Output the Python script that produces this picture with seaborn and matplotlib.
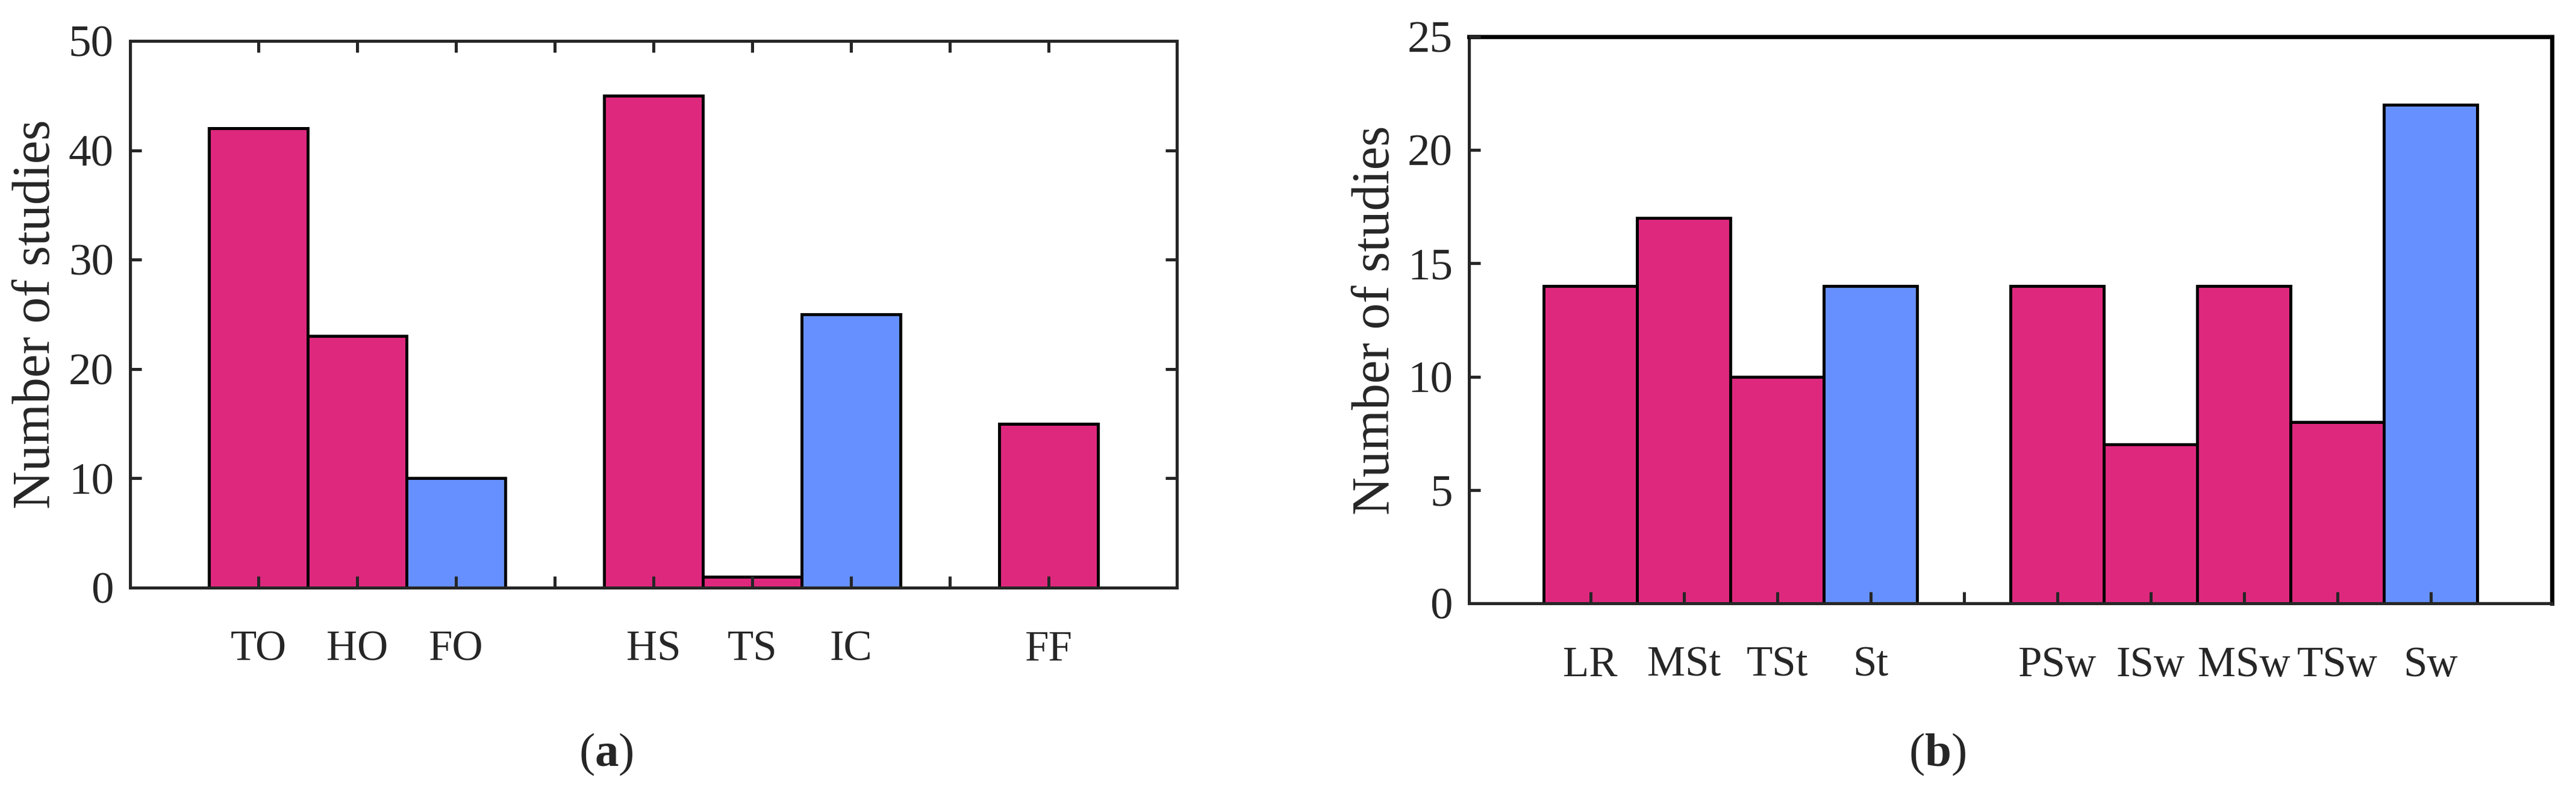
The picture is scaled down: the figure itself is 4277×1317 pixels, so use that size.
import matplotlib
matplotlib.use("Agg")
import matplotlib.pyplot as plt
import seaborn as sns
import pandas as pd

# ---------------- data ----------------
groups_a = [["TO", "HO", "FO"], ["HS", "TS", "IC"], ["FF"]]
values_a = [42, 23, 10, 45, 1, 25, 15]
kinds_a = ["part", "part", "total", "part", "part", "total", "part"]
yticks_a = [0, 10, 20, 30, 40, 50]

groups_b = [["LR", "MSt", "TSt", "St"], ["PSw", "ISw", "MSw", "TSw", "Sw"]]
values_b = [14, 17, 10, 14, 14, 7, 14, 8, 22]
kinds_b = ["part", "part", "part", "total", "part", "part", "part", "part", "total"]
yticks_b = [0, 5, 10, 15, 20, 25]

ylabel = "Number of studies"
captions = ["a", "b"]

palette = {"part": "#DE287E", "total": "#6690FF"}
spine_col = "#262626"

sns.set_theme(style="ticks")
plt.rcParams["font.family"] = ["Liberation Serif", "DejaVu Serif"]
plt.rcParams["mathtext.fontset"] = "custom"
plt.rcParams["mathtext.rm"] = "Liberation Serif"
plt.rcParams["mathtext.bf"] = "Liberation Serif:bold"

fig = plt.figure(figsize=(4277 / 300, 1317 / 300), dpi=300)
ax_a = fig.add_axes([0.0505, 0.2589, 0.4064, 0.6895])
ax_b = fig.add_axes([0.5703, 0.2392, 0.4204, 0.7145])


def build_order(groups):
    order = []
    for gi, g in enumerate(groups):
        if gi > 0:
            order.append(f"_gap{gi}")
        order.extend(g)
    return order


def draw(ax, groups, values, kinds, yticks, boxed):
    order = build_order(groups)
    cats = [c for g in groups for c in g]
    df = pd.DataFrame({"cat": cats, "val": values, "kind": kinds})
    sns.barplot(data=df, x="cat", y="val", hue="kind", order=order,
                palette=palette, width=1.0, dodge=False, legend=False,
                edgecolor="black", linewidth=1.2, saturation=1, ax=ax,
                errorbar=None)
    n = len(order)
    ax.set_xlim(-1.3, n + 0.3)
    ax.set_ylim(yticks[0], yticks[-1])
    ax.set_yticks(yticks)
    ax.set_xticks(range(n))
    ax.set_xticklabels(["" if o.startswith("_gap") else o for o in order])
    ax.set_xlabel("")
    ax.set_ylabel(ylabel, fontsize=21, labelpad=3)
    ax.set_axisbelow(False)
    ax.tick_params(axis="x", direction="in", length=4.5, width=1.2,
                   color=spine_col, labelsize=17, pad=17,
                   top=boxed, bottom=True)
    ax.tick_params(axis="y", direction="in", length=4.5, width=1.2,
                   color=spine_col, labelsize=18, pad=6.5,
                   right=boxed, left=True)
    for s in ["left", "bottom"]:
        ax.spines[s].set_color(spine_col)
        ax.spines[s].set_linewidth(1.2)
    for s in ["top", "right"]:
        ax.spines[s].set_visible(True)
        if boxed:
            ax.spines[s].set_color(spine_col)
            ax.spines[s].set_linewidth(1.2)
        else:
            ax.spines[s].set_color("black")
            ax.spines[s].set_linewidth(1.7)
    ax.grid(False)


draw(ax_a, groups_a, values_a, kinds_a, yticks_a, boxed=True)
draw(ax_b, groups_b, values_b, kinds_b, yticks_b, boxed=False)

fig.text(0.2352, 0.0342, r"($\mathbf{%s}$)" % captions[0], ha="center",
         va="baseline", fontsize=19)
fig.text(0.7520, 0.0342, r"($\mathbf{%s}$)" % captions[1], ha="center",
         va="baseline", fontsize=19)

fig.savefig("out.png", dpi=300, facecolor="white")
